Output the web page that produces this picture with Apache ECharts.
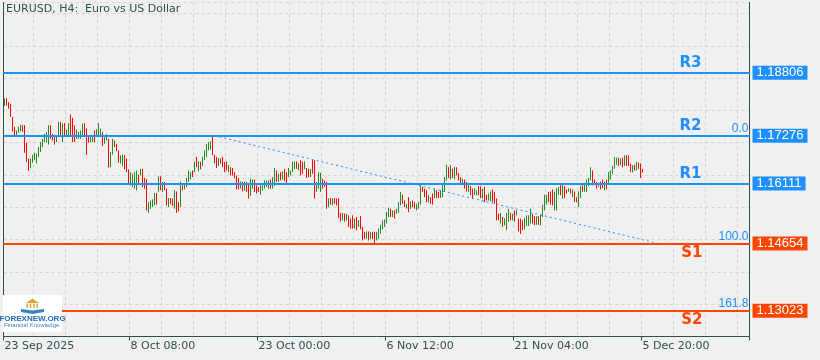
<!DOCTYPE html>
<html><head><meta charset="utf-8">
<script src="https://cdn.jsdelivr.net/npm/echarts@6/dist/echarts.min.js"></script>
<style>html,body{margin:0;padding:0;background:#f0f0f0;}#c{width:820px;height:360px;}</style>
</head><body><div id="c"></div>
<script>
// ---- data ----
const chartTitle = 'EURUSD, H4:  Euro vs US Dollar';
const tickIdx = [0, 63, 127, 191, 255, 319];
const tickText = ['23 Sep 2025', '8 Oct 08:00', '23 Oct 00:00', '6 Nov 12:00', '21 Nov 04:00', '5 Dec 20:00'];
// [open, close, low, high]
const candles = [
[1.1800,1.1818,1.1800,1.1818],[1.1819,1.1801,1.1801,1.1819],[1.1809,1.1793,1.1793,1.1809],[1.1805,1.1773,1.1773,1.1805],
[1.1773,1.1738,1.1738,1.1773],[1.1749,1.1728,1.1728,1.1749],[1.1728,1.1740,1.1728,1.1740],[1.1735,1.1749,1.1735,1.1749],
[1.1738,1.1754,1.1738,1.1754],[1.1753,1.1737,1.1737,1.1753],[1.1753,1.1686,1.1686,1.1753],[1.1711,1.1664,1.1664,1.1711],
[1.1672,1.1642,1.1642,1.1672],[1.1649,1.1672,1.1649,1.1672],[1.1662,1.1681,1.1662,1.1681],[1.1668,1.1686,1.1668,1.1686],
[1.1660,1.1684,1.1660,1.1684],[1.1676,1.1700,1.1676,1.1700],[1.1688,1.1712,1.1688,1.1712],[1.1700,1.1720,1.1700,1.1720],
[1.1712,1.1732,1.1712,1.1732],[1.1712,1.1737,1.1712,1.1737],[1.1706,1.1753,1.1706,1.1753],[1.1753,1.1720,1.1720,1.1753],
[1.1732,1.1716,1.1716,1.1732],[1.1728,1.1706,1.1706,1.1728],[1.1712,1.1728,1.1712,1.1728],[1.1724,1.1761,1.1724,1.1761],
[1.1761,1.1728,1.1728,1.1761],[1.1712,1.1757,1.1712,1.1757],[1.1758,1.1728,1.1728,1.1758],[1.1726,1.1742,1.1726,1.1742],
[1.1728,1.1758,1.1728,1.1758],[1.1779,1.1728,1.1728,1.1779],[1.1771,1.1712,1.1712,1.1771],[1.1753,1.1712,1.1712,1.1753],
[1.1720,1.1743,1.1720,1.1743],[1.1720,1.1737,1.1720,1.1737],[1.1720,1.1740,1.1720,1.1740],[1.1728,1.1757,1.1728,1.1757],
[1.1758,1.1728,1.1728,1.1758],[1.1745,1.1681,1.1681,1.1745],[1.1728,1.1711,1.1711,1.1728],[1.1711,1.1724,1.1711,1.1724],
[1.1712,1.1728,1.1712,1.1728],[1.1740,1.1712,1.1712,1.1740],[1.1724,1.1743,1.1724,1.1743],[1.1728,1.1758,1.1728,1.1758],
[1.1728,1.1745,1.1728,1.1745],[1.1737,1.1702,1.1702,1.1737],[1.1708,1.1724,1.1708,1.1724],[1.1716,1.1732,1.1716,1.1732],
[1.1720,1.1650,1.1650,1.1720],[1.1651,1.1688,1.1651,1.1688],[1.1682,1.1720,1.1682,1.1720],[1.1716,1.1700,1.1700,1.1716],
[1.1708,1.1690,1.1690,1.1708],[1.1692,1.1662,1.1662,1.1692],[1.1660,1.1680,1.1660,1.1680],[1.1654,1.1682,1.1654,1.1682],
[1.1680,1.1646,1.1646,1.1680],[1.1672,1.1639,1.1639,1.1672],[1.1646,1.1611,1.1611,1.1646],[1.1607,1.1639,1.1607,1.1639],
[1.1603,1.1635,1.1603,1.1635],[1.1599,1.1639,1.1599,1.1639],[1.1595,1.1643,1.1595,1.1643],[1.1633,1.1611,1.1611,1.1633],
[1.1631,1.1647,1.1631,1.1647],[1.1647,1.1603,1.1603,1.1647],[1.1625,1.1599,1.1599,1.1625],[1.1622,1.1546,1.1546,1.1622],
[1.1540,1.1566,1.1540,1.1566],[1.1550,1.1570,1.1550,1.1570],[1.1554,1.1573,1.1554,1.1573],[1.1558,1.1588,1.1558,1.1588],
[1.1588,1.1560,1.1560,1.1588],[1.1591,1.1629,1.1591,1.1629],[1.1629,1.1595,1.1595,1.1629],[1.1591,1.1615,1.1591,1.1615],
[1.1615,1.1595,1.1595,1.1615],[1.1599,1.1558,1.1558,1.1599],[1.1554,1.1576,1.1554,1.1576],[1.1576,1.1562,1.1562,1.1576],
[1.1575,1.1557,1.1557,1.1575],[1.1550,1.1595,1.1550,1.1595],[1.1592,1.1540,1.1540,1.1592],[1.1566,1.1544,1.1544,1.1566],
[1.1554,1.1616,1.1554,1.1616],[1.1607,1.1595,1.1595,1.1607],[1.1597,1.1611,1.1597,1.1611],[1.1603,1.1625,1.1603,1.1625],
[1.1615,1.1643,1.1615,1.1643],[1.1621,1.1639,1.1621,1.1639],[1.1643,1.1627,1.1627,1.1643],[1.1639,1.1664,1.1639,1.1664],
[1.1676,1.1651,1.1651,1.1676],[1.1641,1.1665,1.1641,1.1665],[1.1664,1.1646,1.1646,1.1664],[1.1654,1.1676,1.1654,1.1676],
[1.1668,1.1692,1.1668,1.1692],[1.1676,1.1708,1.1676,1.1708],[1.1692,1.1712,1.1692,1.1712],[1.1694,1.1714,1.1694,1.1714],
[1.1728,1.1680,1.1680,1.1728],[1.1681,1.1660,1.1660,1.1681],[1.1676,1.1649,1.1649,1.1676],[1.1654,1.1673,1.1654,1.1673],
[1.1672,1.1660,1.1660,1.1672],[1.1676,1.1651,1.1651,1.1676],[1.1664,1.1639,1.1639,1.1664],[1.1665,1.1643,1.1643,1.1665],
[1.1639,1.1656,1.1639,1.1656],[1.1651,1.1631,1.1631,1.1651],[1.1649,1.1631,1.1631,1.1649],[1.1639,1.1624,1.1624,1.1639],
[1.1631,1.1597,1.1597,1.1631],[1.1625,1.1597,1.1597,1.1625],[1.1599,1.1616,1.1599,1.1616],[1.1615,1.1592,1.1592,1.1615],
[1.1594,1.1616,1.1594,1.1616],[1.1615,1.1591,1.1591,1.1615],[1.1611,1.1575,1.1575,1.1611],[1.1581,1.1623,1.1581,1.1623],
[1.1599,1.1621,1.1599,1.1621],[1.1621,1.1591,1.1591,1.1621],[1.1607,1.1587,1.1587,1.1607],[1.1603,1.1591,1.1591,1.1603],
[1.1584,1.1607,1.1584,1.1607],[1.1595,1.1609,1.1595,1.1609],[1.1599,1.1619,1.1599,1.1619],[1.1603,1.1619,1.1603,1.1619],
[1.1599,1.1619,1.1599,1.1619],[1.1621,1.1599,1.1599,1.1621],[1.1599,1.1627,1.1599,1.1627],[1.1605,1.1649,1.1605,1.1649],
[1.1643,1.1615,1.1615,1.1643],[1.1616,1.1635,1.1616,1.1635],[1.1639,1.1619,1.1619,1.1639],[1.1621,1.1641,1.1621,1.1641],
[1.1647,1.1617,1.1617,1.1647],[1.1639,1.1613,1.1613,1.1639],[1.1627,1.1649,1.1627,1.1649],[1.1631,1.1643,1.1631,1.1643],
[1.1639,1.1664,1.1639,1.1664],[1.1646,1.1665,1.1646,1.1665],[1.1665,1.1647,1.1647,1.1665],[1.1643,1.1660,1.1643,1.1660],
[1.1668,1.1631,1.1631,1.1668],[1.1664,1.1635,1.1635,1.1664],[1.1646,1.1665,1.1646,1.1665],[1.1649,1.1625,1.1625,1.1649],
[1.1647,1.1627,1.1627,1.1647],[1.1627,1.1647,1.1627,1.1647],[1.1668,1.1635,1.1635,1.1668],[1.1668,1.1575,1.1575,1.1668],
[1.1591,1.1615,1.1591,1.1615],[1.1599,1.1639,1.1599,1.1639],
[1.1591,1.1637,1.1591,1.1637],[1.1623,1.1599,1.1599,1.1623],[1.1619,1.1603,1.1603,1.1619],[1.1615,1.1550,1.1550,1.1615],
[1.1554,1.1575,1.1554,1.1575],[1.1576,1.1560,1.1560,1.1576],[1.1558,1.1575,1.1558,1.1575],[1.1576,1.1562,1.1562,1.1576],
[1.1575,1.1558,1.1558,1.1575],[1.1576,1.1527,1.1527,1.1576],[1.1540,1.1519,1.1519,1.1540],[1.1522,1.1540,1.1522,1.1540],
[1.1538,1.1519,1.1519,1.1538],[1.1522,1.1538,1.1522,1.1538],[1.1534,1.1506,1.1506,1.1534],[1.1526,1.1502,1.1502,1.1526],
[1.1534,1.1502,1.1502,1.1534],[1.1502,1.1526,1.1502,1.1526],[1.1530,1.1498,1.1498,1.1530],[1.1506,1.1522,1.1506,1.1522],
[1.1532,1.1500,1.1500,1.1532],[1.1506,1.1473,1.1473,1.1506],[1.1494,1.1477,1.1477,1.1494],[1.1477,1.1495,1.1477,1.1495],
[1.1495,1.1473,1.1473,1.1495],[1.1477,1.1494,1.1477,1.1494],[1.1494,1.1477,1.1477,1.1494],[1.1494,1.1467,1.1467,1.1494],
[1.1473,1.1494,1.1473,1.1494],[1.1477,1.1502,1.1477,1.1502],[1.1489,1.1511,1.1489,1.1511],[1.1500,1.1522,1.1500,1.1522],
[1.1506,1.1524,1.1506,1.1524],[1.1514,1.1542,1.1514,1.1542],[1.1530,1.1552,1.1530,1.1552],[1.1550,1.1530,1.1530,1.1550],
[1.1530,1.1546,1.1530,1.1546],[1.1546,1.1526,1.1526,1.1546],[1.1538,1.1550,1.1538,1.1550],[1.1540,1.1566,1.1540,1.1566],
[1.1558,1.1591,1.1558,1.1591],[1.1584,1.1562,1.1562,1.1584],[1.1570,1.1554,1.1554,1.1570],[1.1550,1.1562,1.1550,1.1562],
[1.1578,1.1542,1.1542,1.1578],[1.1550,1.1568,1.1550,1.1568],[1.1570,1.1554,1.1554,1.1570],[1.1566,1.1550,1.1550,1.1566],
[1.1546,1.1562,1.1546,1.1562],[1.1550,1.1566,1.1550,1.1566],[1.1560,1.1607,1.1560,1.1607],[1.1603,1.1591,1.1591,1.1603],
[1.1599,1.1578,1.1578,1.1599],[1.1595,1.1566,1.1566,1.1595],[1.1566,1.1583,1.1566,1.1583],[1.1578,1.1562,1.1562,1.1578],
[1.1587,1.1560,1.1560,1.1587],[1.1576,1.1599,1.1576,1.1599],[1.1595,1.1576,1.1576,1.1595],[1.1591,1.1576,1.1576,1.1591],
[1.1576,1.1595,1.1576,1.1595],[1.1578,1.1611,1.1578,1.1611],[1.1591,1.1627,1.1591,1.1627],[1.1619,1.1657,1.1619,1.1657],
[1.1651,1.1625,1.1625,1.1651],[1.1621,1.1656,1.1621,1.1656],[1.1647,1.1625,1.1625,1.1647],[1.1621,1.1651,1.1621,1.1651],
[1.1651,1.1631,1.1631,1.1651],[1.1637,1.1619,1.1619,1.1637],[1.1627,1.1611,1.1611,1.1627],[1.1607,1.1623,1.1607,1.1623],
[1.1621,1.1599,1.1599,1.1621],[1.1615,1.1592,1.1592,1.1615],[1.1591,1.1611,1.1591,1.1611],[1.1605,1.1583,1.1583,1.1605],
[1.1599,1.1576,1.1576,1.1599],[1.1583,1.1600,1.1583,1.1600],[1.1583,1.1595,1.1583,1.1595],[1.1605,1.1583,1.1583,1.1605],
[1.1605,1.1576,1.1576,1.1605],[1.1575,1.1599,1.1575,1.1599],[1.1603,1.1566,1.1566,1.1603],[1.1584,1.1570,1.1570,1.1584],
[1.1570,1.1587,1.1570,1.1587],[1.1568,1.1592,1.1568,1.1592],[1.1597,1.1566,1.1566,1.1597],[1.1591,1.1562,1.1562,1.1591],
[1.1575,1.1522,1.1522,1.1575],[1.1538,1.1522,1.1522,1.1538],[1.1514,1.1540,1.1514,1.1540],[1.1530,1.1506,1.1506,1.1530],
[1.1510,1.1527,1.1510,1.1527],[1.1498,1.1540,1.1498,1.1540],[1.1518,1.1550,1.1518,1.1550],[1.1540,1.1522,1.1522,1.1540],
[1.1522,1.1538,1.1522,1.1538],[1.1546,1.1519,1.1519,1.1546],[1.1534,1.1546,1.1534,1.1546],[1.1526,1.1495,1.1495,1.1526],
[1.1526,1.1489,1.1489,1.1526],[1.1522,1.1498,1.1498,1.1522],[1.1500,1.1527,1.1500,1.1527],[1.1508,1.1534,1.1508,1.1534],
[1.1508,1.1534,1.1508,1.1534],[1.1514,1.1550,1.1514,1.1550],[1.1538,1.1514,1.1514,1.1538],[1.1532,1.1510,1.1510,1.1532],
[1.1511,1.1532,1.1511,1.1532],[1.1532,1.1511,1.1511,1.1532],[1.1510,1.1536,1.1510,1.1536],[1.1530,1.1560,1.1530,1.1560],
[1.1546,1.1584,1.1546,1.1584],[1.1560,1.1584,1.1560,1.1584],[1.1591,1.1566,1.1566,1.1591],[1.1592,1.1560,1.1560,1.1592],
[1.1597,1.1558,1.1558,1.1597],[1.1546,1.1591,1.1546,1.1591],[1.1546,1.1600,1.1546,1.1600],[1.1584,1.1603,1.1584,1.1603],
[1.1609,1.1583,1.1583,1.1609],[1.1575,1.1609,1.1575,1.1609],[1.1605,1.1576,1.1576,1.1605],[1.1597,1.1587,1.1587,1.1597],
[1.1591,1.1600,1.1591,1.1600],[1.1599,1.1587,1.1587,1.1599],[1.1578,1.1597,1.1578,1.1597],[1.1592,1.1566,1.1566,1.1592],
[1.1578,1.1566,1.1566,1.1578],[1.1554,1.1592,1.1554,1.1592],[1.1576,1.1605,1.1576,1.1605],[1.1607,1.1591,1.1591,1.1607],
[1.1591,1.1613,1.1591,1.1613],[1.1591,1.1621,1.1591,1.1621],[1.1605,1.1625,1.1605,1.1625],[1.1619,1.1651,1.1619,1.1651],
[1.1643,1.1607,1.1607,1.1643],[1.1621,1.1608,1.1608,1.1621],[1.1615,1.1599,1.1599,1.1615],[1.1603,1.1613,1.1603,1.1613],
[1.1616,1.1597,1.1597,1.1616],[1.1621,1.1600,1.1600,1.1621],[1.1595,1.1616,1.1595,1.1616],[1.1621,1.1597,1.1597,1.1621],
[1.1613,1.1639,1.1613,1.1639],[1.1621,1.1643,1.1621,1.1643],[1.1635,1.1654,1.1635,1.1654],[1.1647,1.1676,1.1647,1.1676],
[1.1657,1.1674,1.1657,1.1674],[1.1674,1.1654,1.1654,1.1674],[1.1656,1.1672,1.1656,1.1672],[1.1674,1.1651,1.1651,1.1674],
[1.1654,1.1680,1.1654,1.1680],[1.1680,1.1654,1.1654,1.1680],[1.1680,1.1654,1.1654,1.1680],[1.1660,1.1639,1.1639,1.1660],
[1.1638,1.1656,1.1638,1.1656],[1.1657,1.1643,1.1643,1.1657],[1.1643,1.1664,1.1643,1.1664],[1.1662,1.1647,1.1647,1.1662],
[1.1660,1.1625,1.1625,1.1660],[1.1647,1.1638,1.1638,1.1647]
];
const levelNames = ['R3', 'R2', 'R1', 'S1', 'S2'];
const levelValues = [1.18806, 1.17276, 1.16111, 1.14654, 1.13023];
const fibNames = ['0.0', '100.0', '161.8'];
const fibValues = [1.17276, 1.14654, 1.13023];
const fibAnchor = [[105, 1.17276], [327, 1.14654]];
const slotCount = 373;

// ---- chart ----
const BLUE = '#1e90ff', ORANGE = '#ff4500', FG = '#2f4f4f';
const categories = Array.from({length: slotCount}, (_, i) => String(i));
const yMin = 1.12396, yMax = 1.20512, yStep = 0.00785;

const markData = [];
levelValues.forEach((v, i) => {
  const col = i < 3 ? BLUE : ORANGE;
  const ls = {color: col, width: 2, type: 'solid'};
  markData.push({yAxis: v, lineStyle: ls, label: {show: true, position: 'end', distance: 3,
    formatter: v.toFixed(5), color: '#fff', backgroundColor: col, padding: [1, 4, 0, 4],
    fontFamily: 'Liberation Sans', fontSize: 13, lineHeight: 13}});
  markData.push({yAxis: v, lineStyle: ls, label: {show: true,
    position: i < 3 ? 'insideEndTop' : 'insideEndBottom', distance: i < 3 ? [48, 2] : [47, 2],
    formatter: levelNames[i], color: col, fontFamily: 'DejaVu Sans', fontWeight: 'bold', fontSize: 15}});
});
fibValues.forEach((v, i) => {
  const li = levelValues.indexOf(v);
  const col = li < 3 ? BLUE : ORANGE;
  markData.push({yAxis: v, lineStyle: {color: col, width: 2, type: 'solid'}, label: {show: true,
    position: 'insideEndTop', distance: [1, 1], formatter: fibNames[i], color: BLUE,
    fontFamily: 'Liberation Sans', fontSize: 12}});
});

const chart = echarts.init(document.getElementById('c'), null, {renderer: 'canvas'});
chart.setOption({
  animation: false,
  backgroundColor: '#f0f0f0',
  title: {text: chartTitle, left: 6, top: 4, padding: 0,
    textStyle: {fontFamily: 'DejaVu Sans', fontSize: 11, fontWeight: 'normal', color: FG}},
  grid: {left: 3.5, top: 2.5, width: 746, height: 334, containLabel: false},
  xAxis: {type: 'category', data: categories, boundaryGap: true,
    axisLine: {show: true, lineStyle: {color: FG, width: 1}},
    axisTick: {show: true, length: 4, inside: false, interval: (i) => tickIdx.includes(i), lineStyle: {color: FG}},
    axisLabel: {show: true, interval: (i) => tickIdx.includes(i), align: 'left', margin: 4,
      formatter: (val, idx) => { const k = tickIdx.indexOf(Number(val)); return k >= 0 ? tickText[k] : ''; },
      fontFamily: 'DejaVu Sans', fontSize: 11, color: FG, hideOverlap: false},
    splitLine: {show: true, interval: (i) => i % 16 === 15, lineStyle: {color: '#d4d4d4', type: [3, 3], width: 1}}
  },
  yAxis: [
    {type: 'value', position: 'left', min: yMin, max: yMax, interval: yStep, scale: true,
      axisLine: {show: true, lineStyle: {color: FG}}, axisTick: {show: false}, axisLabel: {show: false},
      splitLine: {show: true, lineStyle: {color: '#d4d4d4', type: [3, 3], width: 1}}},
    {type: 'value', position: 'right', min: yMin, max: yMax, scale: true,
      axisLine: {show: true, lineStyle: {color: FG}}, axisTick: {show: false}, axisLabel: {show: false},
      splitLine: {show: false}}
  ],
  series: [
    {type: 'candlestick', name: 'EURUSD', data: candles, barWidth: 1, z: 2,
      itemStyle: {color: '#228b22', color0: '#ff0000', borderColor: '#228b22', borderColor0: '#ff0000', borderWidth: 1},
      markLine: {silent: true, symbol: ['none', 'none'], precision: 5, animation: false, z: 5, data: markData}
    },
    {type: 'line', name: 'fib', data: fibAnchor, showSymbol: false, symbol: 'none', silent: true, z: 3,
      lineStyle: {color: BLUE, width: 1, type: [2, 3]}}
  ],
  graphic: [
    {type: 'rect', shape: {x: 3, y: 295, width: 59, height: 37}, style: {fill: '#ffffff'}, z: 10},
    {type: 'polygon', shape: {points: [[26, 303], [32.5, 298.5], [39, 303]]}, style: {fill: '#d9a431'}, z: 11},
    {type: 'rect', shape: {x: 26.5, y: 303.5, width: 1.4, height: 4.5}, style: {fill: '#d9a431'}, z: 11},
    {type: 'rect', shape: {x: 29.8, y: 303.5, width: 1.4, height: 4.5}, style: {fill: '#d9a431'}, z: 11},
    {type: 'rect', shape: {x: 33.2, y: 303.5, width: 1.4, height: 4.5}, style: {fill: '#d9a431'}, z: 11},
    {type: 'rect', shape: {x: 36.5, y: 303.5, width: 1.4, height: 4.5}, style: {fill: '#d9a431'}, z: 11},
    {type: 'polygon', shape: {points: [[21, 309], [32.5, 310.5], [44, 309], [44, 312], [32.5, 314], [21, 312]]}, style: {fill: '#3584c8'}, z: 11},
    {type: 'text', x: 32.5, y: 319, style: {text: 'FOREXNEW.ORG', fill: '#1d6db5', font: 'bold 8px "Liberation Sans"', align: 'center', verticalAlign: 'middle'}, z: 11},
    {type: 'text', x: 32.5, y: 325.7, style: {text: 'Financial Knowledge.', fill: '#3a7fc0', font: '6px "Liberation Sans"', align: 'center', verticalAlign: 'middle'}, z: 11}
  ]
});
</script>
</body></html>
